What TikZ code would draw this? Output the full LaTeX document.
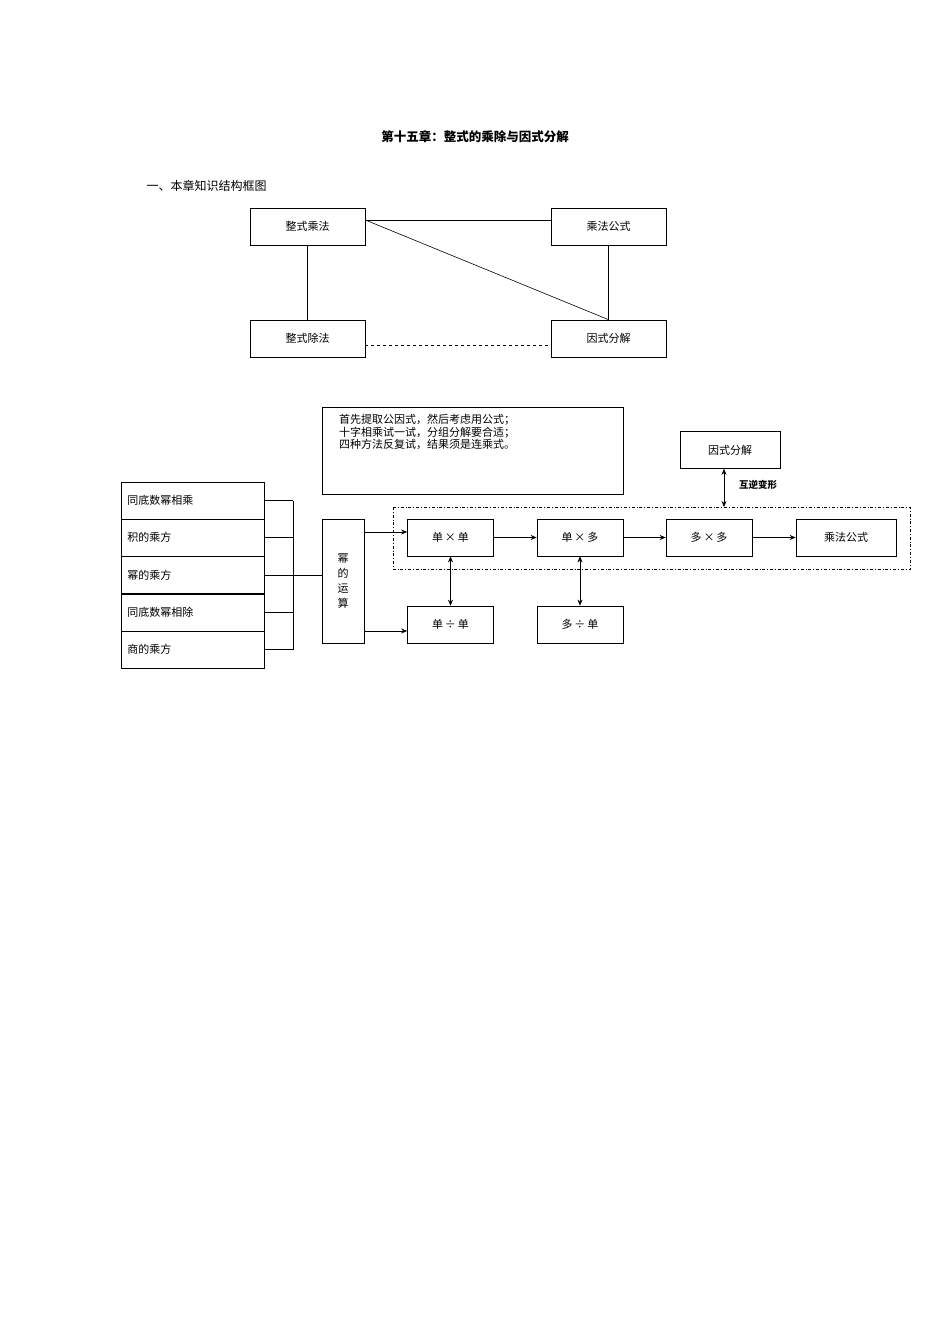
\documentclass[tikz,border=0pt]{standalone}
\usepackage{fontspec}
\setmainfont{Liberation Serif}
\newfontfamily\cjk{Noto Sans CJK SC}
\newfontfamily\cjkb{Noto Sans CJK SC}
\usetikzlibrary{arrows.meta}
\begin{document}
\begin{tikzpicture}[x=1pt,y=-1pt,
 bx/.style={draw,line width=0.7pt,minimum width=115pt,minimum height=37pt,font=\cjk\fontsize{11}{13}\selectfont,inner sep=0pt},
 sb/.style={draw,line width=0.7pt,minimum width=86pt,minimum height=37pt,font=\cjk\fontsize{11}{13}\selectfont,inner sep=0pt},
 lb/.style={draw,line width=0.7pt,minimum width=143pt,minimum height=37pt,font=\cjk\fontsize{11}{13}\selectfont,inner sep=6pt,anchor=west,text width=131pt,align=left},
 ln/.style={line width=0.6pt},
 ar/.style={line width=0.6pt,-{Stealth[length=6pt,width=5pt]}},
 da/.style={line width=0.6pt,{Stealth[length=6pt,width=5pt]}-{Stealth[length=6pt,width=5pt]}}]
\useasboundingbox (0,0) rectangle (950,1344);
\node[font=\cjk\bfseries\fontsize{12.5}{14}\selectfont] (title) at (475,137) {第十五章：整式的乘除与因式分解};
\node[font=\cjk\fontsize{12}{14}\selectfont,anchor=west] (sub) at (143,186) {一、本章知识结构框图};
\node[bx] (a) at (307.5,226.5) {整式乘法};
\node[bx] (b) at (608.5,226.5) {乘法公式};
\node[bx] (c) at (307.5,338.5) {整式除法};
\node[bx] (d) at (608.5,338.5) {因式分解};
\draw[ln] (a.east|-0,220) -- (b.west|-0,220);
\draw[ln] (a.east|-0,220) -- (d.north);
\draw[ln] (a) -- (c);
\draw[ln] (b) -- (d);
\draw[ln,dashed] (c.east|-0,345) -- (d.west|-0,345);
% bottom
\node[draw,line width=0.7pt,minimum width=301pt,minimum height=87pt,inner sep=0pt] (tb) at (472.5,450.5) {};
\node[font=\cjk\fontsize{11}{12.5}\selectfont,align=left,anchor=north west,inner sep=0pt] (tt) at (339,414) {首先提取公因式，然后考虑用公式；\\十字相乘试一试，分组分解要合适；\\四种方法反复试，结果须是连乘式。};
\node[sb,minimum width=100pt] (f) at (730,450) {因式分解};
\draw[line width=0.7pt,dash dot] (393,507) rectangle (910,569);
\coordinate (dt) at (724,507);
\draw[da] (f.south-|dt) -- (dt);
\node[font=\cjk\bfseries\fontsize{9.5}{11}\selectfont] (lab) at (758,485) {互逆变形};
\node[sb] (m1) at (450.5,537.5) {单\,×\,单};
\node[sb] (m2) at (580,537.5) {单\,×\,多};
\node[sb] (m3) at (709,537.5) {多\,×\,多};
\node[sb,minimum width=100pt] (m4) at (846,537.5) {乘法公式};
\node[sb] (d1) at (450.5,624.5) {单\,÷\,单};
\node[sb] (d2) at (580,624.5) {多\,÷\,单};
\node[draw,line width=0.7pt,minimum width=42pt,minimum height=124pt,inner sep=0pt,font=\cjk\fontsize{11}{15}\selectfont,align=center] (p) at (343,581) {幂\\的\\运\\算};
\draw[ar] (m1) -- (m2);
\draw[ar] (m2) -- (m3);
\draw[ar] (m3) -- (m4);
\draw[da] (m1) -- (d1);
\draw[da] (m2) -- (d2);
\draw[ar] (p.east|-0,532) -- (m1.west|-0,532);
\draw[ar] (p.east|-0,631) -- (d1.west|-0,631);
\node[lb] (l1) at (121,500.5) {同底数幂相乘};
\node[lb] (l2) at (121,537.5) {积的乘方};
\node[lb] (l3) at (121,575) {幂的乘方};
\node[lb] (l4) at (121,612.5) {同底数幂相除};
\node[lb] (l5) at (121,649.5) {商的乘方};
\coordinate (br) at (293,575);
\foreach \n in {l1,l2,l3,l4,l5}{\draw[ln] (\n.east) -- (\n.east-|br);}
\draw[ln] (l1.east-|br) -- (l5.east-|br);
\draw[ln] (br) -- (p.west|-br);
\end{tikzpicture}
\end{document}
